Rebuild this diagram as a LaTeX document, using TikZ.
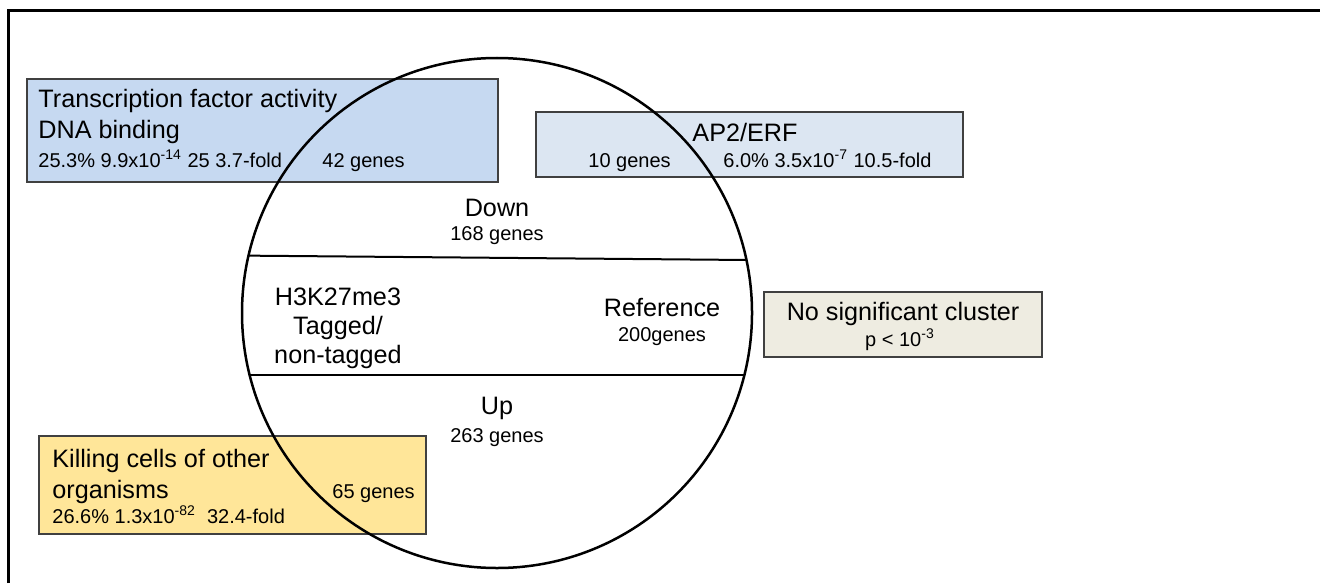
\documentclass[tikz,border=0pt]{standalone}
\usepackage{fontspec}
\setmainfont{Liberation Sans}
\usetikzlibrary{positioning}
\definecolor{tfblue}{HTML}{C6D9F1}
\definecolor{erfblue}{HTML}{DCE6F2}
\definecolor{nsbeige}{HTML}{EEECE1}
\definecolor{killyellow}{HTML}{FFE699}
\definecolor{edgegray}{HTML}{404040}
\tikzset{
  cluster/.style={
    rectangle, draw=edgegray, line width=0.75pt, inner sep=0pt
  },
  bigtxt/.style={
    inner sep=0pt, font=\fontsize{12.6}{15}\selectfont
  },
  smalltxt/.style={
    inner sep=0pt, font=\fontsize{10}{12}\selectfont
  },
  divider/.style={
    line width=1pt
  }
}

\begin{document}
\begin{tikzpicture}[x=0.5pt, y=-0.5pt]
\useasboundingbox (0,0) rectangle (1320,583);
\draw[line width=1.5pt] (8,583) -- (8,10.5) -- (1320,10.5);

% cluster boxes
\node[cluster, fill=tfblue, minimum width=235.5pt, minimum height=51.5pt] (tf) at (262.5,130.5) {};
\node[cluster, fill=erfblue, minimum width=213.5pt, minimum height=32.5pt] (erf) at (749.5,144.5) {};
\node[cluster, fill=nsbeige, minimum width=139pt, minimum height=32.5pt] (ns) at (903,324.5) {};
\node[cluster, fill=killyellow, minimum width=193.5pt, minimum height=49pt] (kill) at (232.5,485) {};

% circle and its three bands
\node[circle, draw, line width=1.25pt, minimum size=255pt, inner sep=0pt, outer sep=0pt] (venn) at (497,313) {};
\draw[divider] (venn.167.8) -- (venn.12.2);
\draw[divider] (venn.194.3) -- (venn.-14.3);

\node[bigtxt, anchor=base] (down) at (497,216) {Down};
\node[smalltxt, anchor=base] (downn) at (497,240) {168 genes};
\node[bigtxt, anchor=base] (mark1) at (338,305) {H3K27me3};
\node[bigtxt, anchor=base] (mark2) at (338,334) {Tagged/};
\node[bigtxt, anchor=base] (mark3) at (338,363) {non-tagged};
\node[bigtxt, anchor=base] (ref) at (662,316) {Reference};
\node[smalltxt, anchor=base] (refn) at (662,341) {200genes};
\node[bigtxt, anchor=base] (up) at (497,414) {Up};
\node[smalltxt, anchor=base] (upn) at (497,442) {263 genes};

% box texts
\node[bigtxt, anchor=base west] (tf1) at (38,107) {Transcription factor activity};
\node[bigtxt, anchor=base west] (tf2) at (38,138) {DNA binding};
\node[smalltxt, anchor=base west] (tf3) at (38,167) {25.3\% 9.9x10\textsuperscript{-14} 25 3.7-fold};
\node[smalltxt, anchor=base west] (tfn) at (322,167) {42 genes};

\node[bigtxt, anchor=base] (erf1) at (745,141) {AP2/ERF};
\node[smalltxt, anchor=base west] (erfn) at (588,167) {10 genes};
\node[smalltxt, anchor=base west] (erf2) at (723,167) {6.0\% 3.5x10\textsuperscript{-7}\ 10.5-fold};

\node[bigtxt, anchor=base] (ns1) at (903,320) {No significant cluster};
\node[smalltxt, anchor=base] (ns2) at (900,346) {p < 10\textsuperscript{-3}};

\node[bigtxt, anchor=base west] (kill1) at (52,467) {Killing cells of other};
\node[bigtxt, anchor=base west] (kill2) at (52,498) {organisms};
\node[smalltxt, anchor=base west] (kill3) at (52,523) {26.6\% 1.3x10\textsuperscript{-82}\ \ 32.4-fold};
\node[smalltxt, anchor=base west] (killn) at (332,498) {65 genes};
\end{tikzpicture}
\end{document}
